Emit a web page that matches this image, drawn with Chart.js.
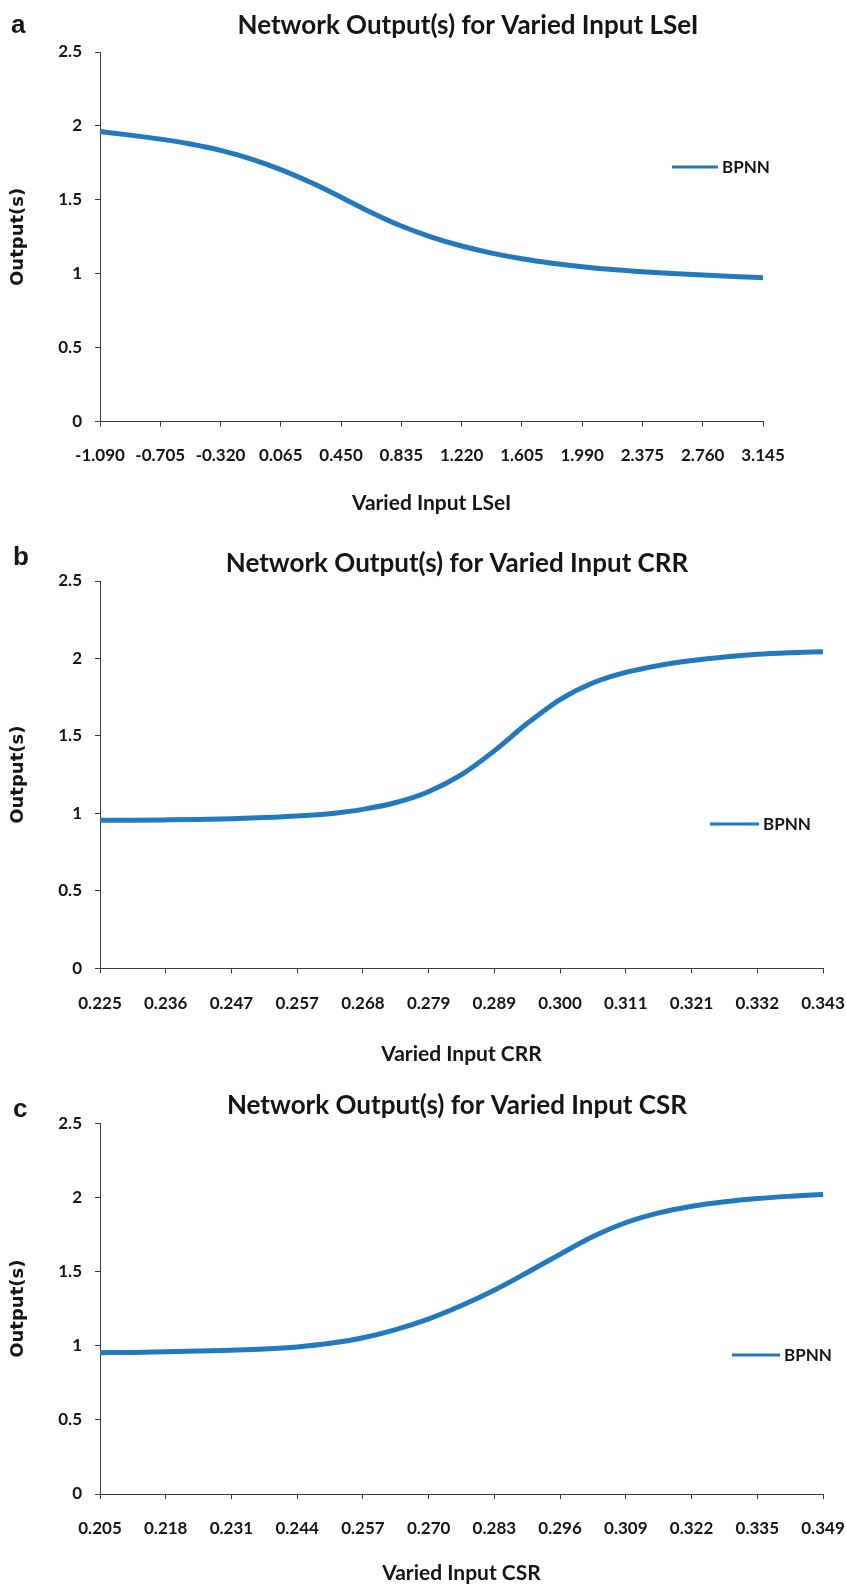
<!DOCTYPE html>
<html>
<head>
<meta charset="utf-8">
<script src="https://cdn.jsdelivr.net/npm/chart.js@4.4.1/dist/chart.umd.min.js"></script>
<style>
html,body{margin:0;padding:0;background:#ffffff;overflow:hidden;width:846px;height:1587px;}
.panel{position:absolute;left:0;}
canvas{display:block;}
</style>
</head>
<body>
<div class="panel" id="pa"><canvas id="ca"></canvas></div>
<div class="panel" id="pb"><canvas id="cb"></canvas></div>
<div class="panel" id="pc"><canvas id="cc"></canvas></div>
<script>
// ---------------- DATA ----------------
const seriesName = 'BPNN';
const yTickLabels = ['0', '0.5', '1', '1.5', '2', '2.5'];

// Panel a: varied input LSeI
const lseiX = [-1.090, -0.8975, -0.705, -0.5125, -0.320, -0.1275, 0.065, 0.2575, 0.450, 0.6425, 0.835, 1.0275,
               1.220, 1.4125, 1.605, 1.7975, 1.990, 2.1825, 2.375, 2.5675, 2.760, 2.9525, 3.145];
const lseiY = [1.962, 1.938, 1.911, 1.878, 1.835, 1.778, 1.705, 1.617, 1.518, 1.415, 1.323, 1.248,
               1.188, 1.140, 1.102, 1.072, 1.048, 1.029, 1.014, 1.002, 0.992, 0.982, 0.973];
const lseiTickLabels = ['-1.090', '-0.705', '-0.320', '0.065', '0.450', '0.835', '1.220', '1.605', '1.990', '2.375', '2.760', '3.145'];

// Panel b: varied input CRR
const crrX = [0.2250, 0.2304, 0.2357, 0.2411, 0.2465, 0.2518, 0.2572, 0.2625, 0.2679, 0.2733, 0.2786, 0.2840,
              0.2894, 0.2947, 0.3001, 0.3055, 0.3108, 0.3162, 0.3216, 0.3269, 0.3323, 0.3376, 0.3430];
const crrY = [0.955, 0.956, 0.958, 0.961, 0.966, 0.973, 0.983, 0.998, 1.026, 1.070, 1.140, 1.250,
              1.405, 1.580, 1.735, 1.843, 1.910, 1.955, 1.987, 2.010, 2.027, 2.037, 2.044];
const crrTickLabels = ['0.225', '0.236', '0.247', '0.257', '0.268', '0.279', '0.289', '0.300', '0.311', '0.321', '0.332', '0.343'];

// Panel c: varied input CSR
const csrX = [0.2050, 0.2115, 0.2181, 0.2246, 0.2312, 0.2377, 0.2443, 0.2508, 0.2574, 0.2639, 0.2705, 0.2770,
              0.2836, 0.2901, 0.2967, 0.3032, 0.3098, 0.3163, 0.3229, 0.3294, 0.3360, 0.3425, 0.3490];
const csrY = [0.953, 0.955, 0.959, 0.964, 0.970, 0.978, 0.992, 1.016, 1.054, 1.109, 1.181, 1.271,
              1.376, 1.494, 1.618, 1.736, 1.831, 1.896, 1.941, 1.971, 1.993, 2.008, 2.020];
const csrTickLabels = ['0.205', '0.218', '0.231', '0.244', '0.257', '0.270', '0.283', '0.296', '0.309', '0.322', '0.335', '0.349'];

// ---------------- STYLE / LAYOUT ----------------
const BLUE = '#2279be';
const INK = '#151515';
const AXIS = '#3c3c3c';
const TITLE_FONT = {family: 'Lato', weight: 'bold', size: 26, lineHeight: 1.2};
const XTITLE_FONT = {family: 'Lato', weight: 'bold', size: 21, lineHeight: 1.2};
const TICK_FONT_X = {family: 'Lato', weight: 'bold', size: 17, lineHeight: 1.2};
const TICK_FONT_Y = {family: 'Lato', weight: 'bold', size: 17, lineHeight: 1.2};
const YTITLE_FONT = {family: 'DejaVu Sans', weight: 'bold', size: 18, lineHeight: 1.2};

const decorPlugin = {
  id: 'panelDecor',
  afterDraw(chart, args, o) {
    const c = chart.ctx;
    c.save();
    c.fillStyle = INK;
    c.textAlign = 'left';
    c.textBaseline = 'alphabetic';
    c.font = 'bold 26px "Liberation Sans", Arial, sans-serif';
    c.fillText(o.letter, o.letterX, o.letterY);
    // legend entry (inside plot, Excel style)
    const ds = chart.data.datasets[0];
    c.strokeStyle = ds.borderColor;
    c.lineWidth = 3;
    c.lineCap = 'butt';
    c.beginPath();
    c.moveTo(o.legX, o.legY);
    c.lineTo(o.legX + o.legLen, o.legY);
    c.stroke();
    c.font = 'bold 17px Lato, sans-serif';
    c.textBaseline = 'middle';
    c.fillText(ds.label, o.legX + o.legLen + 4, o.legY + 1);
    c.restore();
  }
};

function makePanel(p) {
  const canvasTop = p.top;
  const W = 2 * p.titleCX;
  const H = p.height;
  const div = document.getElementById(p.div);
  div.style.top = canvasTop + 'px';
  const cv = document.getElementById(p.canvas);
  cv.width = W; cv.height = H;
  cv.style.width = W + 'px'; cv.style.height = H + 'px';

  const tLH = TITLE_FONT.size * TITLE_FONT.lineHeight;
  const titlePadTop = (p.titleCY + 1.6 - canvasTop) - tLH / 2;
  const titlePadBottom = (p.plotTop - canvasTop) - titlePadTop - tLH;
  const xtLH = XTITLE_FONT.size * XTITLE_FONT.lineHeight;
  const scaleBottom = (p.xTitleCY + 1 - canvasTop) + xtLH / 2;
  const xScaleH = scaleBottom - (p.plotBottom - canvasTop);
  const padBottom = H - scaleBottom;
  const xLH = TICK_FONT_X.size * TICK_FONT_X.lineHeight;
  const xTickPad = (p.xLabelCY + 1 - p.plotBottom) - 5 - xLH / 2;

  const n = p.tickLabels.length;
  const data = p.xs.map((x, i) => ({x: x, y: p.ys[i]}));

  return new Chart(cv.getContext('2d'), {
    type: 'line',
    data: {
      datasets: [{
        label: seriesName,
        data: data,
        borderColor: BLUE,
        backgroundColor: BLUE,
        borderWidth: 5,
        pointRadius: 0,
        cubicInterpolationMode: 'monotone',
        fill: false,
        clip: false
      }]
    },
    options: {
      responsive: false,
      animation: false,
      devicePixelRatio: 1,
      layout: {padding: {left: 0, right: 0, top: 0, bottom: padBottom}},
      plugins: {
        legend: {display: false},
        tooltip: {enabled: false},
        title: {
          display: true, text: p.title, color: INK, font: TITLE_FONT,
          padding: {top: titlePadTop, bottom: titlePadBottom}
        },
        panelDecor: {
          letter: p.letter, letterX: p.letterX, letterY: p.letterY - canvasTop,
          legX: p.legX, legY: p.legY - canvasTop, legLen: p.legLen
        }
      },
      scales: {
        x: {
          type: 'linear',
          position: 'bottom',
          min: p.xMin, max: p.xMax,
          afterBuildTicks: s => {
            s.ticks = p.tickLabels.map((_, i) => ({value: p.xMin + i * (p.xMax - p.xMin) / (n - 1)}));
          },
          afterFit: s => { s.height = xScaleH; },
          ticks: {
            autoSkip: false, maxRotation: 0, minRotation: 0,
            padding: xTickPad, color: INK, font: TICK_FONT_X,
            callback: (v, i) => p.tickLabels[i]
          },
          grid: {display: true, drawOnChartArea: false, drawTicks: true, tickLength: 5, color: AXIS, lineWidth: 1},
          border: {display: true, color: AXIS, width: 1},
          title: {display: true, text: p.xTitle, color: INK, font: XTITLE_FONT, padding: {top: 0, bottom: 0}}
        },
        y: {
          type: 'linear',
          position: 'left',
          min: 0, max: 2.5,
          afterBuildTicks: s => { s.ticks = yTickLabels.map(l => ({value: parseFloat(l)})); },
          afterFit: s => { s.width = p.plotLeft; },
          ticks: {padding: 13, color: INK, font: TICK_FONT_Y, callback: (v, i) => yTickLabels[i]},
          grid: {display: true, drawOnChartArea: false, drawTicks: true, tickLength: 5, color: AXIS, lineWidth: 1},
          border: {display: true, color: AXIS, width: 1},
          title: {display: true, text: 'Output(s)', color: INK, font: YTITLE_FONT, padding: {top: 7.7, bottom: 0}}
        },
        spacer: {
          type: 'linear',
          position: 'right',
          display: true,
          afterFit: s => { s.width = W - p.plotRight; },
          ticks: {display: false},
          grid: {display: false},
          border: {display: false},
          title: {display: false}
        }
      }
    },
    plugins: [decorPlugin]
  });
}

function build() {
  makePanel({
    div: 'pa', canvas: 'ca', top: 0, height: 530, titleCX: 468,
    titleCY: 24.5, plotTop: 52, plotBottom: 421.7, plotLeft: 100, plotRight: 763,
    xLabelCY: 455, xTitleCY: 502,
    title: 'Network Output(s) for Varied Input LSeI', xTitle: 'Varied Input LSeI',
    xs: lseiX, ys: lseiY, tickLabels: lseiTickLabels, xMin: -1.090, xMax: 3.145,
    letter: 'a', letterX: 11, letterY: 33,
    legX: 672, legY: 167, legLen: 46
  });
  makePanel({
    div: 'pb', canvas: 'cb', top: 530, height: 540, titleCX: 457,
    titleCY: 562, plotTop: 581, plotBottom: 968.3, plotLeft: 100, plotRight: 823,
    xLabelCY: 1003, xTitleCY: 1053,
    title: 'Network Output(s) for Varied Input CRR', xTitle: 'Varied Input CRR',
    xs: crrX, ys: crrY, tickLabels: crrTickLabels, xMin: 0.225, xMax: 0.343,
    letter: 'b', letterX: 13, letterY: 565,
    legX: 710, legY: 824, legLen: 49
  });
  makePanel({
    div: 'pc', canvas: 'cc', top: 1070, height: 517, titleCX: 457,
    titleCY: 1104, plotTop: 1123.3, plotBottom: 1494, plotLeft: 100, plotRight: 823,
    xLabelCY: 1528, xTitleCY: 1572,
    title: 'Network Output(s) for Varied Input CSR', xTitle: 'Varied Input CSR',
    xs: csrX, ys: csrY, tickLabels: csrTickLabels, xMin: 0.205, xMax: 0.349,
    letter: 'c', letterX: 13, letterY: 1117,
    legX: 732, legY: 1355, legLen: 48
  });
}

const fontLoads = [
  'bold 26px Lato', '17px Lato', 'bold 18px "DejaVu Sans"', 'bold 26px "Liberation Sans"'
].map(f => document.fonts.load(f).catch(() => null));
Promise.all(fontLoads).then(build, build);
</script>
</body>
</html>
